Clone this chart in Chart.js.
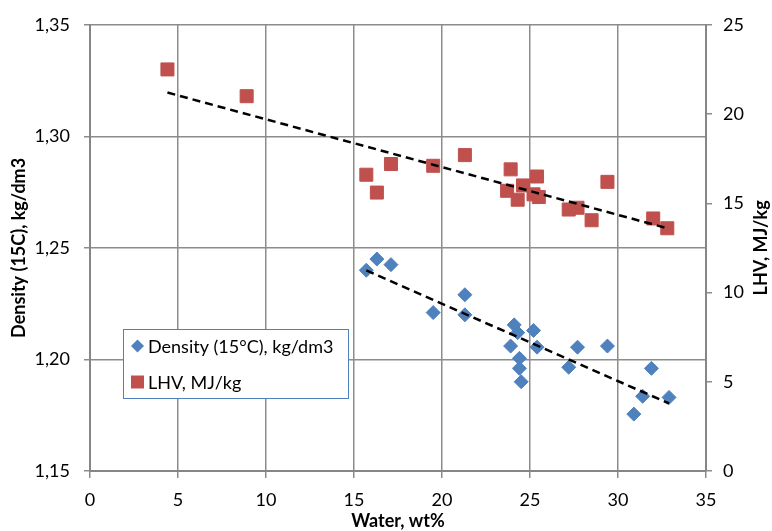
<!DOCTYPE html>
<html>
<head>
<meta charset="utf-8">
<script src="https://cdn.jsdelivr.net/npm/chart.js@4.4.1/dist/chart.umd.min.js"></script>
<style>
  html, body { margin: 0; padding: 0; background: #fff; }
  #wrap { width: 772px; height: 531px; position: relative; }
</style>
</head>
<body>
<div id="wrap"><canvas id="chart"></canvas></div>
<script>
// water content (wt%) and density (15°C), kg/dm3
var waterDensity = [15.7, 16.3, 17.1, 19.5, 21.3, 21.3, 24.1, 24.3, 23.9, 25.2, 25.4, 24.4, 24.4, 24.5, 27.2, 27.7, 29.4, 31.9, 31.4, 30.9, 32.9];
var density = [1.240, 1.245, 1.2425, 1.221, 1.229, 1.220, 1.2155, 1.212, 1.206, 1.213, 1.2055, 1.2005, 1.196, 1.190, 1.1965, 1.2055, 1.206, 1.196, 1.1835, 1.1755, 1.183];

// water content (wt%) and LHV, MJ/kg
var waterLhv = [4.4, 8.9, 15.7, 16.3, 17.1, 19.5, 21.3, 23.9, 23.7, 24.6, 24.3, 25.2, 25.5, 25.4, 27.2, 27.7, 28.5, 29.4, 32.0, 32.8];
var lhv = [22.5, 21.0, 16.6, 15.6, 17.2, 17.1, 17.7, 16.9, 15.7, 16.0, 15.2, 15.5, 15.35, 16.5, 14.65, 14.75, 14.05, 16.2, 14.15, 13.6];

var seriesNames = ['Density (15°C), kg/dm3', 'LHV, MJ/kg'];
var xTitle = 'Water, wt%';
var yTitle = 'Density (15C), kg/dm3';
var y1Title = 'LHV, MJ/kg';

var FONT = 'Lato, Carlito, "Liberation Sans", sans-serif';
var BLUE = '#4F81BD';
var RED = '#C0504D';
var GRID = '#8c8c8c';

function pts(xs, ys) {
  var out = [];
  for (var i = 0; i < xs.length; i++) out.push({x: xs[i], y: ys[i]});
  return out;
}

// linear least squares trendline, like the spreadsheet one
function trend(xs, ys) {
  var n = xs.length, sx = 0, sy = 0, sxx = 0, sxy = 0;
  for (var i = 0; i < n; i++) {
    sx += xs[i]; sy += ys[i]; sxx += xs[i] * xs[i]; sxy += xs[i] * ys[i];
  }
  var b = (n * sxy - sx * sy) / (n * sxx - sx * sx);
  var a = (sy - b * sx) / n;
  var x0 = Math.min.apply(null, xs), x1 = Math.max.apply(null, xs);
  return [{x: x0, y: a + b * x0}, {x: x1, y: a + b * x1}];
}

// legend box sitting inside the plot
var insideLegend = {
  id: 'insideLegend',
  afterDraw: function(chart) {
    var ctx = chart.ctx;
    var x = 123, y = 329.5, w = 225, h = 69;
    ctx.save();
    ctx.fillStyle = '#fff';
    ctx.fillRect(x, y, w, h);
    ctx.strokeStyle = BLUE;
    ctx.lineWidth = 1;
    ctx.strokeRect(x + 0.5, y, w, h);
    ctx.font = '18px ' + FONT;
    ctx.textBaseline = 'middle';
    ctx.fillStyle = '#000';
    var items = chart.data.datasets.filter(function(d) { return d.inLegend; });
    items.forEach(function(d, i) {
      var cx = 137.5, cy = 346 + i * 36;
      ctx.fillStyle = d.backgroundColor;
      ctx.beginPath();
      if (d.pointStyle === 'rectRot') {
        ctx.moveTo(cx - 6.5, cy); ctx.lineTo(cx, cy - 6.5);
        ctx.lineTo(cx + 6.5, cy); ctx.lineTo(cx, cy + 6.5);
      } else {
        ctx.rect(cx - 6.5, cy - 6.5, 13, 13);
      }
      ctx.closePath();
      ctx.fill();
      ctx.fillStyle = '#000';
      ctx.fillText(d.label, 148, cy + 1);
    });
    ctx.restore();
  }
};

// right axis title reads bottom to top
var rightTitle = {
  id: 'rightTitle',
  afterDraw: function(chart) {
    var ctx = chart.ctx;
    var area = chart.chartArea;
    ctx.save();
    ctx.translate(761, (area.top + area.bottom) / 2);
    ctx.rotate(-Math.PI / 2);
    ctx.font = 'bold 18px ' + FONT;
    ctx.fillStyle = '#000';
    ctx.textAlign = 'center';
    ctx.textBaseline = 'middle';
    ctx.fillText(y1Title, 0, 0);
    ctx.restore();
  }
};

var tickFont = {family: FONT, size: 18};
var titleFont = {family: FONT, size: 18, weight: 'bold'};

var config = {
  type: 'scatter',
  data: {
    datasets: [
      {
        label: 'trend density', data: trend(waterDensity, density), yAxisID: 'y',
        showLine: true, pointRadius: 0, borderColor: '#000', borderWidth: 2.5,
        borderDash: [8, 5], order: 1
      },
      {
        label: 'trend lhv', data: trend(waterLhv, lhv), yAxisID: 'y1',
        showLine: true, pointRadius: 0, borderColor: '#000', borderWidth: 2.5,
        borderDash: [8, 5], order: 1
      },
      {
        label: seriesNames[0], data: pts(waterDensity, density), yAxisID: 'y', inLegend: true,
        pointStyle: 'rectRot', pointRadius: 7, backgroundColor: BLUE, borderColor: BLUE,
        borderWidth: 1, order: 3
      },
      {
        label: seriesNames[1], data: pts(waterLhv, lhv), yAxisID: 'y1', inLegend: true,
        pointStyle: 'rect', pointRadius: 9.2, backgroundColor: RED, borderColor: RED,
        borderWidth: 1, order: 2
      }
    ]
  },
  options: {
    responsive: true,
    maintainAspectRatio: false,
    animation: false,
    layout: {padding: {top: 21, left: 0, right: 0, bottom: 0}},
    plugins: {
      legend: {display: false},
      tooltip: {enabled: false}
    },
    scales: {
      x: {
        type: 'linear', min: 0, max: 35,
        ticks: {stepSize: 5, color: '#000', font: tickFont, padding: 11},
        grid: {color: GRID, lineWidth: 1.5, tickLength: 7},
        border: {color: '#868686', width: 2},
        title: {display: true, text: xTitle, color: '#000', font: titleFont, padding: {top: 0, bottom: -1}},
        afterFit: function(s) { s.height = 60; }
      },
      y: {
        position: 'left', min: 1.15, max: 1.35,
        ticks: {
          stepSize: 0.05, color: '#000', font: tickFont, padding: 14,
          callback: function(v) { return v.toFixed(2).replace('.', ','); }
        },
        grid: {color: GRID, lineWidth: 1.5, tickLength: 6},
        border: {color: '#868686', width: 2},
        title: {display: true, text: yTitle, color: '#000', font: titleFont, padding: {top: 8, bottom: 0}},
        afterFit: function(s) { s.width = 90; }
      },
      y1: {
        position: 'right', min: 0, max: 25,
        ticks: {stepSize: 5, color: '#000', font: tickFont, padding: 11},
        grid: {drawOnChartArea: false, color: GRID, lineWidth: 1.5, tickLength: 6},
        border: {color: '#868686', width: 2},
        afterFit: function(s) { s.width = 66; }
      }
    }
  },
  plugins: [insideLegend, rightTitle]
};

var ctx = document.getElementById('chart').getContext('2d');
window.myChart = new Chart(ctx, config);
</script>
</body>
</html>
